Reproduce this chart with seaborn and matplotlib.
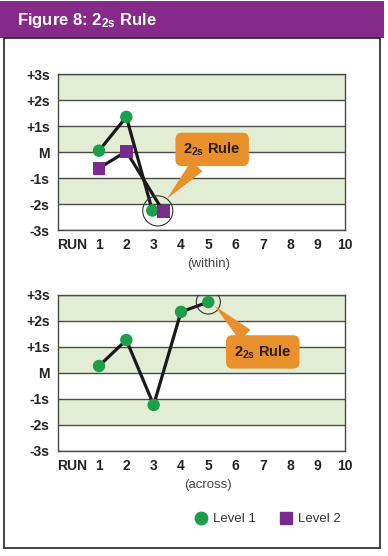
#!/usr/bin/env python3

# Westgard 2-2s rule illustration: within-run and across-run control charts.

import matplotlib
matplotlib.use('Agg')
import matplotlib.pyplot as plt
from matplotlib.lines import Line2D
from matplotlib.patches import Rectangle
import seaborn as sns

run_labels = ['RUN', '1', '2', '3', '4', '5', '6', '7', '8', '9', '10']
sd_labels = ['-3s', '-2s', '-1s', 'M', '+1s', '+2s', '+3s']

within_l1_runs = [1, 2, 2.95]
within_l1_vals = [0.05, 1.35, -2.25]
within_l2_runs = [1, 2, 3.35]
within_l2_vals = [-0.62, 0.02, -2.28]

across_l1_runs = [1, 2, 3, 4, 5]
across_l1_vals = [0.27, 1.27, -1.23, 2.35, 2.73]

PURPLE_BAR = '#862a89'
GREEN = '#1c9e4b'
PURPLE = '#7b2b8e'
ORANGE = '#e8912c'
BAND = '#e3edd4'
GRID = '#4a4a4a'
TEXT = '#222222'
RULE_TEXT = r'$\mathbf{2_{2s}}$ Rule'


def setup_axes(ax, caption):
    ax.set_xlim(-0.5, 10)
    ax.set_ylim(-3, 3)
    for lower in [2, 0, -2]:
        ax.axhspan(lower, lower + 1, color=BAND, zorder=0, lw=0)
    for y in range(-3, 4):
        ax.axhline(y, color=GRID, lw=1.0, zorder=1)
    for side in ax.spines.values():
        side.set_color(GRID)
        side.set_linewidth(1.0)
    ax.set_xticks(range(len(run_labels)))
    ax.set_xticklabels(run_labels)
    ax.set_yticks(range(-3, 4))
    ax.set_yticklabels(sd_labels)
    ax.tick_params(length=0, labelsize=10, labelcolor=TEXT)
    ax.tick_params(axis='x', pad=6)
    ax.tick_params(axis='y', pad=6)
    for label in ax.get_xticklabels() + ax.get_yticklabels():
        label.set_fontweight('bold')
    ax.set_xlabel(caption, fontsize=9.5, color='#444444')
    ax.xaxis.set_label_coords(5.5 / 10.5, -0.18)
    ax.set_ylabel('')


def plot_series(ax, runs, vals, marker, color, size):
    sns.lineplot(x=runs, y=vals, sort=False, estimator=None, color='#1a1a1a',
                 lw=2.3, ax=ax, zorder=3)
    sns.scatterplot(x=runs, y=vals, marker=marker, color=color, s=size,
                    edgecolor='none', ax=ax, zorder=4)


def callout(ax, tip, box):
    ax.annotate(
        RULE_TEXT,
        xy=tip,
        xytext=box,
        ha='center',
        va='center',
        fontsize=10.5,
        fontweight='bold',
        color='#2a1a0a',
        bbox=dict(boxstyle='round,pad=0.55,rounding_size=0.45', fc=ORANGE, ec='none'),
        arrowprops=dict(arrowstyle='wedge,tail_width=1.1,shrink_factor=0.5',
                        fc=ORANGE, ec='none', mutation_scale=10,
                        shrinkA=0, shrinkB=0),
        zorder=5,
    )


def main():
    sns.set_theme(style='white')
    plt.rcParams['font.family'] = ['Liberation Sans', 'DejaVu Sans']
    plt.rcParams['mathtext.fontset'] = 'custom'
    plt.rcParams['mathtext.rm'] = 'Liberation Sans'
    plt.rcParams['mathtext.bf'] = 'Liberation Sans:bold'

    fig = plt.figure(figsize=[3.88, 5.56], dpi=100)
    fig.patch.set_facecolor('white')

    fig.add_artist(Rectangle((0, 1 - 38 / 556), 384 / 388, 37 / 556,
                             transform=fig.transFigure, fc=PURPLE_BAR, ec='none'))
    fig.text(17 / 388, 1 - 21 / 556, r'Figure 8: $\mathbf{2_{2s}}$ Rule',
             color='white', fontsize=12, fontweight='bold', va='center')
    fig.add_artist(Rectangle((4 / 388, 8 / 556), 376 / 388, 510 / 556,
                             transform=fig.transFigure, fill=False,
                             ec='#222222', lw=1.2))

    ax0 = fig.add_axes([58 / 388, 326 / 556, 287 / 388, 156 / 556])
    ax1 = fig.add_axes([58 / 388, 105 / 556, 287 / 388, 156 / 556])

    setup_axes(ax0, '(within)')
    setup_axes(ax1, '(across)')

    plot_series(ax0, within_l1_runs, within_l1_vals, 'o', GREEN, 80)
    plot_series(ax0, within_l2_runs, within_l2_vals, 's', PURPLE, 85)
    plot_series(ax1, across_l1_runs, across_l1_vals, 'o', GREEN, 80)

    # circle the points that break the rule
    cx = (within_l1_runs[-1] + within_l2_runs[-1]) / 2
    cy = (within_l1_vals[-1] + within_l2_vals[-1]) / 2
    ax0.scatter([cx], [cy], s=470, facecolors='none', edgecolors='#333333',
                lw=0.8, zorder=5)
    ax1.scatter([across_l1_runs[-1]], [across_l1_vals[-1]], s=300,
                facecolors='none', edgecolors='#333333', lw=0.8, zorder=5)

    callout(ax0, (3.48, -1.81), (5.14, 0.1))
    callout(ax1, (5.23, 2.58), (6.99, 0.81))

    handles = [
        Line2D([], [], marker='o', ls='none', color=GREEN, markersize=9),
        Line2D([], [], marker='s', ls='none', color=PURPLE, markersize=8.5),
    ]
    fig.legend(handles, ['Level 1', 'Level 2'], loc='center',
               bbox_to_anchor=(0.69, 0.0665), ncol=2, frameon=False,
               fontsize=9.5, handletextpad=0.4, columnspacing=1.8,
               handlelength=1.0, labelcolor='#333333')

    fig.savefig('out.png', dpi=100)


if __name__ == '__main__':
    main()
